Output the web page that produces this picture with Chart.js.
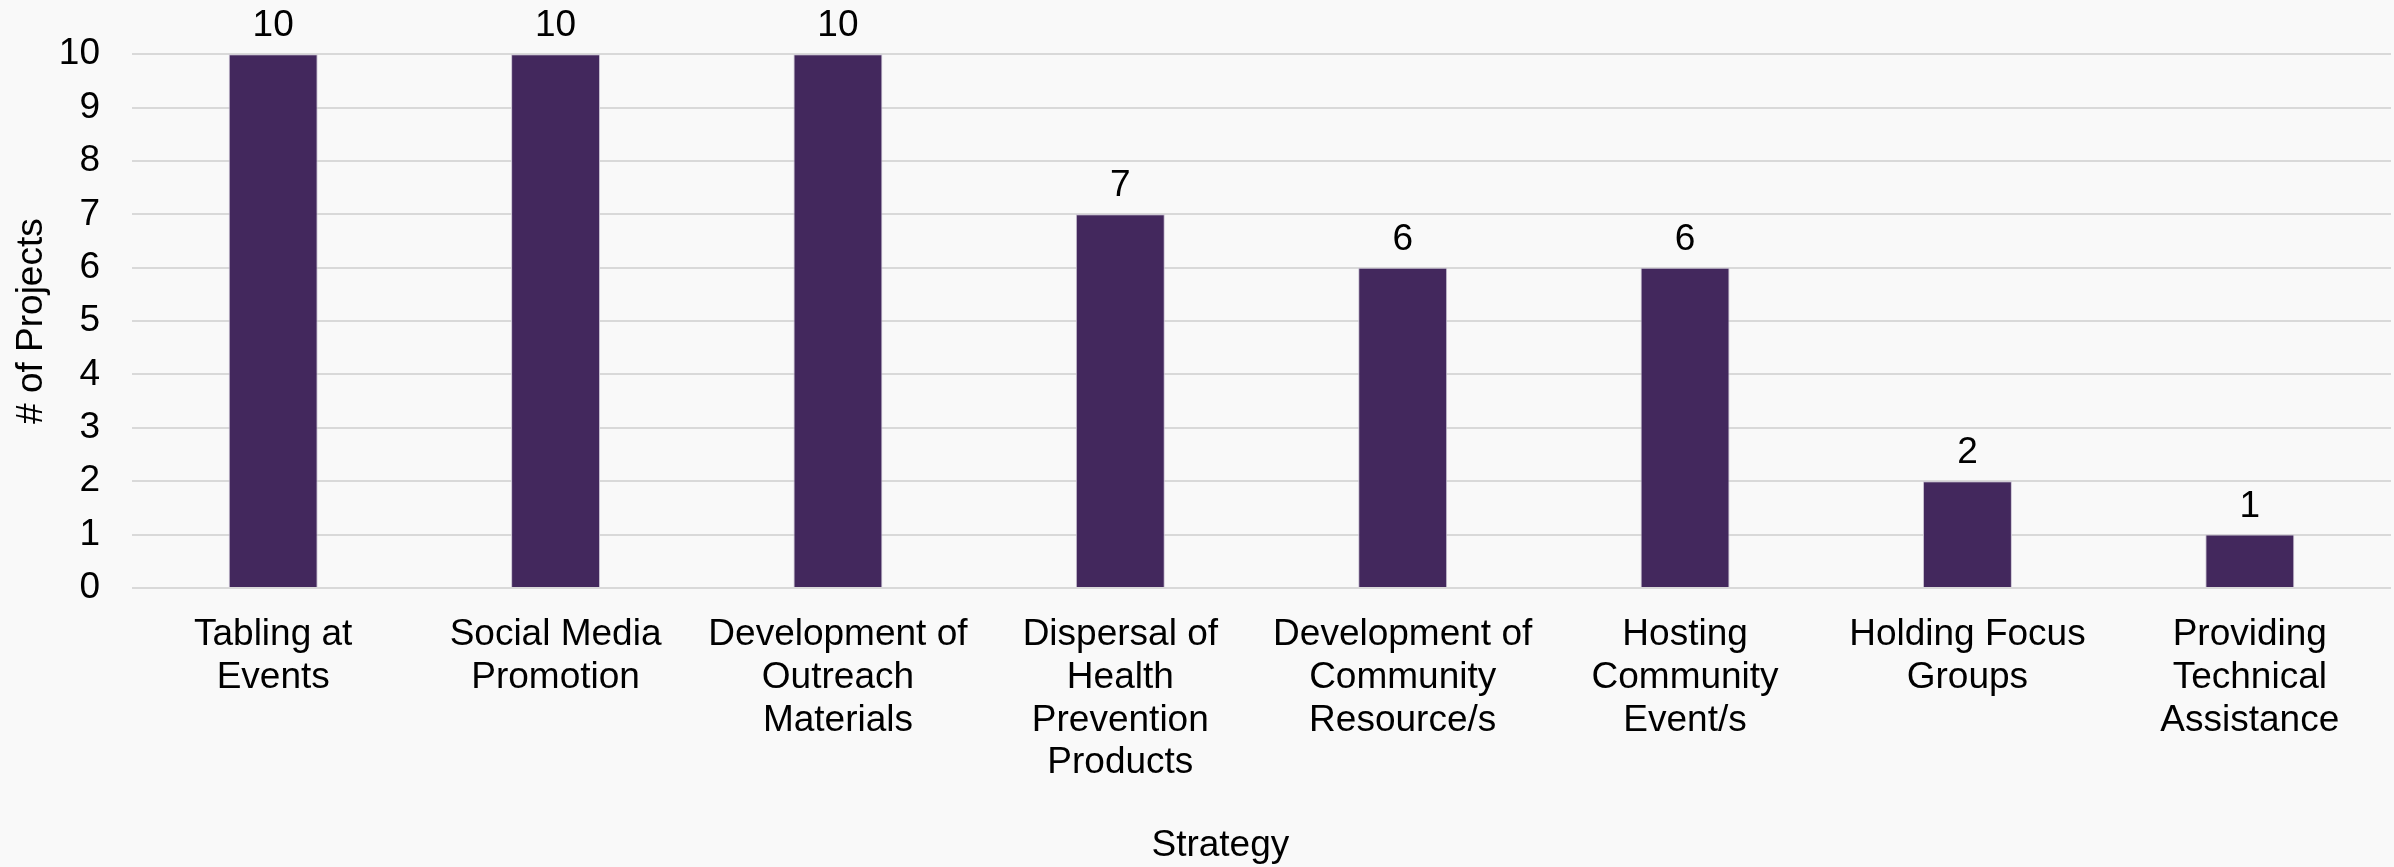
<!DOCTYPE html>
<html>
<head>
<meta charset="utf-8">
<script src="https://cdn.jsdelivr.net/npm/chart.js@4"></script>
<style>
  html, body { margin: 0; padding: 0; background: #f9f9f9; }
  #wrap { width: 2394px; height: 867px; position: relative; }
</style>
</head>
<body>
<div id="wrap"><canvas id="strategyChart"></canvas></div>
<script>
// Categories (wrapped the way they are on the axis)
const strategies = [
    ['Tabling at', 'Events'],
    ['Social Media', 'Promotion'],
    ['Development of', 'Outreach', 'Materials'],
    ['Dispersal of', 'Health', 'Prevention', 'Products'],
    ['Development of', 'Community', 'Resource/s'],
    ['Hosting', 'Community', 'Event/s'],
    ['Holding Focus', 'Groups'],
    ['Providing', 'Technical', 'Assistance']
];
const projectCounts = [10, 10, 10, 7, 6, 6, 2, 1];
const yTicks = [0, 1, 2, 3, 4, 5, 6, 7, 8, 9, 10];

const FONT = 'Liberation Sans, Arial, sans-serif';

// Value labels above each bar
const valueLabels = {
    id: 'valueLabels',
    afterDatasetsDraw(chart) {
        const ctx = chart.ctx;
        const meta = chart.getDatasetMeta(0);
        ctx.save();
        ctx.font = '37px ' + FONT;
        ctx.fillStyle = '#000';
        ctx.textAlign = 'center';
        ctx.textBaseline = 'alphabetic';
        meta.data.forEach(function(bar, i) {
            ctx.fillText(String(projectCounts[i]), bar.x, bar.y - 18);
        });
        ctx.restore();
    }
};

const ctx = document.getElementById('strategyChart').getContext('2d');
const chart = new Chart(ctx, {
    type: 'bar',
    data: {
        labels: strategies,
        datasets: [{
            data: projectCounts,
            backgroundColor: '#43285d',
            borderColor: '#c9c2d2',
            borderWidth: 1,
            categoryPercentage: 1,
            barPercentage: 0.315
        }]
    },
    options: {
        responsive: true,
        maintainAspectRatio: false,
        devicePixelRatio: 1,
        animation: false,
        layout: { padding: { top: 54, right: 3, left: 0, bottom: 0 } },
        plugins: {
            legend: { display: false },
            tooltip: { enabled: false }
        },
        scales: {
            x: {
                grid: { display: false, drawTicks: false },
                border: { display: false },
                ticks: {
                    color: '#000',
                    font: { family: FONT, size: 37, lineHeight: 1.16 },
                    padding: 25,
                    maxRotation: 0,
                    autoSkip: false
                },
                title: {
                    display: true,
                    // trailing spaces nudge the centred title left, as in the original
                    text: 'Strategy        ',
                    color: '#000',
                    font: { family: FONT, size: 37, lineHeight: 1.2 },
                    padding: { top: 0, bottom: -1 }
                },
                afterFit(scale) { scale.height = 279; }
            },
            y: {
                min: 0,
                max: 10,
                grid: { color: '#d9d9d9', lineWidth: 2, drawTicks: false },
                border: { display: false },
                afterBuildTicks(scale) {
                    scale.ticks = yTicks.map(v => ({ value: v }));
                },
                ticks: {
                    color: '#000',
                    font: { family: FONT, size: 37 },
                    padding: 32
                },
                title: {
                    display: true,
                    text: '# of Projects',
                    color: '#000',
                    font: { family: FONT, size: 37, lineHeight: 1.2 },
                    padding: { top: 10, bottom: 0 }
                },
                afterFit(scale) { scale.width = 132; }
            }
        }
    },
    plugins: [valueLabels]
});
</script>
</body>
</html>
